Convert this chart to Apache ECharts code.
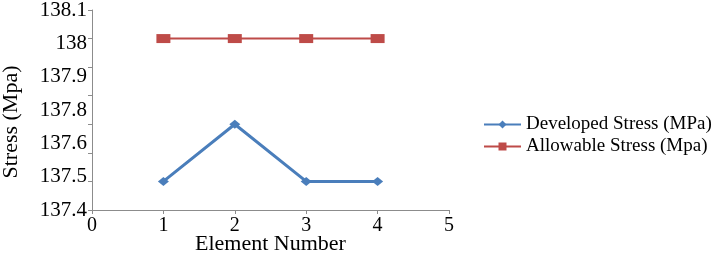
<!DOCTYPE html>
<html><head><meta charset="utf-8">
<script src="https://cdn.jsdelivr.net/npm/echarts@6/dist/echarts.min.js"></script>
<style>html,body{margin:0;padding:0;background:#fff}#c{width:720px;height:257px}</style>
</head><body><div id="c"></div>
<script>
const elements = [1, 2, 3, 4];
const developed = [137.5, 137.7, 137.5, 137.5];
const allowable = [138, 138, 138, 138];
const yTickLabels = ['137.4', '137.5', '137.6', '137.8', '137.9', '138', '138.1'];
const seriesNames = ['Developed Stress (MPa)', 'Allowable Stress (Mpa)'];

const font = 'Liberation Serif';
const axisGray = '#8c8c8c';
const chart = echarts.init(document.getElementById('c'));
chart.setOption({
  animation: false,
  backgroundColor: '#fff',
  textStyle: { fontFamily: font, color: '#000' },
  grid: { left: 92, right: 271, top: 10, bottom: 47, outerBoundsMode: 'none', containLabel: false },
  legend: {
    orient: 'vertical', left: 483, top: 115, padding: 0, itemWidth: 37, itemHeight: 10, itemGap: 3,
    textStyle: { fontFamily: font, fontSize: 19, color: '#000' },
    data: seriesNames
  },
  xAxis: {
    type: 'value', min: 0, max: 5, interval: 1,
    name: 'Element Number', nameLocation: 'middle', nameGap: 23, nameMoveOverlap: false,
    nameTextStyle: { fontFamily: font, fontSize: 22, color: '#000' },
    axisLine: { lineStyle: { color: axisGray, width: 1 } },
    axisTick: { show: true, length: 4, lineStyle: { color: axisGray } },
    axisLabel: { fontFamily: font, fontSize: 20, color: '#000', margin: 6 },
    splitLine: { show: false }
  },
  yAxis: [{
    type: 'value', min: 137.4, max: 138.1, interval: 0.1,
    axisLine: { show: true, lineStyle: { color: axisGray, width: 1 } },
    axisTick: { show: true, length: 4, lineStyle: { color: axisGray } },
    axisLabel: { show: false },
    splitLine: { show: false }
  }, {
    type: 'value', min: 0, max: yTickLabels.length - 1, interval: 1, position: 'left',
    name: 'Stress (Mpa)', nameLocation: 'middle', nameGap: 70, nameRotate: 90, nameMoveOverlap: false,
    nameTextStyle: { fontFamily: font, fontSize: 22, color: '#000', padding: [0, 24, 0, 0] },
    axisLine: { show: false }, axisTick: { show: false }, splitLine: { show: false },
    axisLabel: { fontFamily: font, fontSize: 21, color: '#000', margin: 5,
      formatter: v => yTickLabels[Math.round(v)] }
  }],
  series: [{
    name: seriesNames[0], type: 'line', yAxisIndex: 0,
    data: elements.map((e, i) => [e, developed[i]]),
    symbol: 'diamond', symbolSize: [11, 9],
    itemStyle: { color: '#4a7ebb' }, lineStyle: { color: '#4a7ebb', width: 3 }
  }, {
    name: seriesNames[1], type: 'line', yAxisIndex: 0,
    data: elements.map((e, i) => [e, allowable[i]]),
    symbol: 'rect', symbolSize: [14, 9],
    itemStyle: { color: '#be4b48' }, lineStyle: { color: '#be4b48', width: 2 }
  }]
});
</script></body></html>
